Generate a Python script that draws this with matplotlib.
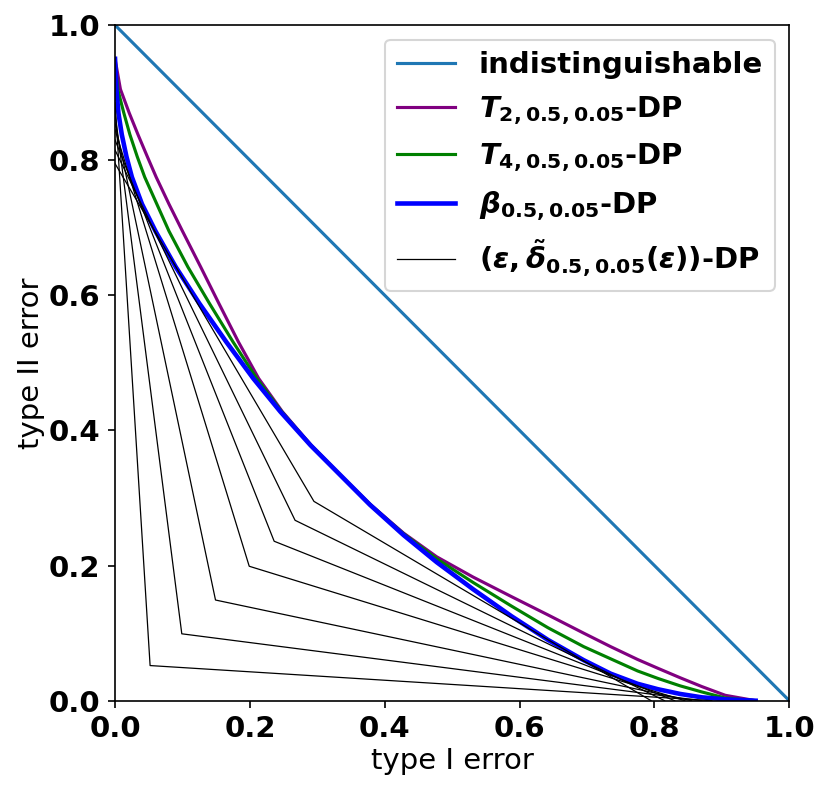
import numpy as np
import matplotlib
matplotlib.use("Agg")
import matplotlib.pyplot as plt

plt.rcParams["mathtext.fontset"] = "custom"
plt.rcParams["mathtext.rm"] = "DejaVu Sans:bold"
plt.rcParams["mathtext.it"] = "DejaVu Sans:bold:italic"
plt.rcParams["mathtext.bf"] = "DejaVu Sans:bold"

# beta_{0.5,0.05} trade-off curve
beta_x = [0.0, 0.002, 0.005, 0.010, 0.017, 0.025, 0.040, 0.060, 0.090, 0.125, 0.165,
          0.205, 0.245, 0.290, 0.334, 0.378, 0.428, 0.477, 0.531, 0.588, 0.642, 0.695,
          0.735, 0.775, 0.805, 0.838, 0.870, 0.905, 0.950]
beta_y = [0.950, 0.905, 0.870, 0.838, 0.805, 0.775, 0.735, 0.695, 0.642, 0.588, 0.531,
          0.477, 0.428, 0.378, 0.334, 0.290, 0.245, 0.205, 0.165, 0.125, 0.090, 0.060,
          0.040, 0.025, 0.017, 0.010, 0.005, 0.002, 0.0]

# T_{4,0.5,0.05}
t4_x = [0.0, 0.004, 0.013, 0.022, 0.033, 0.044, 0.062, 0.080, 0.108, 0.140, 0.175,
        0.210, 0.247, 0.2905, 0.334, 0.378, 0.428, 0.477, 0.531, 0.588, 0.642, 0.695,
        0.735, 0.775, 0.805, 0.838, 0.870, 0.905, 0.950]
t4_y = [0.950, 0.905, 0.870, 0.838, 0.805, 0.775, 0.735, 0.695, 0.642, 0.588, 0.531,
        0.477, 0.428, 0.378, 0.334, 0.2905, 0.247, 0.210, 0.175, 0.140, 0.108, 0.080,
        0.062, 0.044, 0.033, 0.022, 0.013, 0.004, 0.0]

# T_{2,0.5,0.05}
t2_x = [0.0, 0.008, 0.021, 0.034, 0.048, 0.061, 0.080, 0.100, 0.127, 0.154, 0.183,
        0.213, 0.248, 0.291, 0.334, 0.378, 0.428, 0.477, 0.531, 0.588, 0.642, 0.695,
        0.735, 0.775, 0.805, 0.838, 0.870, 0.905, 0.950]
t2_y = [0.950, 0.905, 0.870, 0.838, 0.805, 0.775, 0.735, 0.695, 0.642, 0.588, 0.531,
        0.477, 0.428, 0.378, 0.334, 0.291, 0.248, 0.213, 0.183, 0.154, 0.127, 0.100,
        0.080, 0.061, 0.048, 0.034, 0.021, 0.008, 0.0]

# (eps, delta~(eps))-DP lines: kink position and 1 - delta
kink = [0.052, 0.099, 0.149, 0.199, 0.236, 0.267, 0.295]
one_minus_delta = [0.885, 0.87, 0.855, 0.845, 0.83, 0.815, 0.795]

fig = plt.figure(figsize=(830 / 150, 793 / 150), dpi=150)
ax = fig.add_axes([0.1386, 0.1164, 0.8124, 0.852])

ax.plot([0, 1], [1, 0], color="tab:blue", lw=1.5, label="indistinguishable")
ax.plot(t2_x, t2_y, color="purple", lw=1.5, label=r"$T_{2,0.5,0.05}$-DP")
ax.plot(t4_x, t4_y, color="green", lw=1.5, label=r"$T_{4,0.5,0.05}$-DP")
ax.plot(beta_x, beta_y, color="blue", lw=2.2, label=r"$\beta_{0.5,0.05}$-DP")
for i, (k, b) in enumerate(zip(kink, one_minus_delta)):
    lab = r"$(\varepsilon,\tilde{\delta}_{0.5,0.05}(\varepsilon))$-DP" if i == 0 else None
    ax.plot([0, k, b], [b, k, 0], color="black", lw=0.6, label=lab)

ax.set_xlim(0, 1)
ax.set_ylim(0, 1)
ax.set_xticks([0, 0.2, 0.4, 0.6, 0.8, 1.0])
ax.set_yticks([0, 0.2, 0.4, 0.6, 0.8, 1.0])
for t in ax.get_xticklabels() + ax.get_yticklabels():
    t.set_fontweight("bold")
    t.set_fontsize(14)
ax.set_xlabel("type I error", fontsize=14, labelpad=2)
ax.set_ylabel("type II error", fontsize=14, labelpad=2)
ax.legend(loc="upper right", prop={"weight": "bold", "size": 14})

fig.savefig("out.png", dpi=150)
